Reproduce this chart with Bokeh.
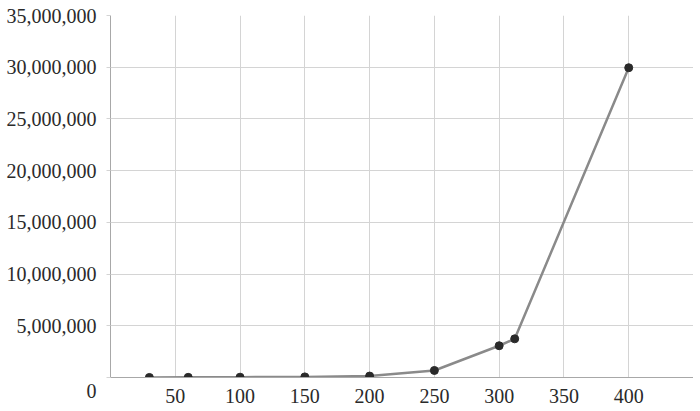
from bokeh.plotting import figure
from bokeh.models import NumeralTickFormatter, FixedTicker, Range1d
from bokeh.embed import file_html
from bokeh.resources import INLINE

x_vals = [30, 60, 100, 150, 200, 250, 300, 312, 400]
y_vals = [5000, 15000, 30000, 60000, 140000, 680000, 3070000, 3740000, 29950000]
x_ticks = [50, 100, 150, 200, 250, 300, 350, 400, 450]
y_ticks = [0, 5000000, 10000000, 15000000, 20000000, 25000000, 30000000, 35000000]

FONT = "Liberation Serif"
LBL = "#2a2a2a"

p = figure(frame_width=583, frame_height=362, output_backend="svg", toolbar_location=None,
           x_range=Range1d(0, 450), y_range=Range1d(0, 35000000),
           min_border_left=110, min_border_right=0, min_border_top=15, min_border_bottom=10)
p.outline_line_color = None
p.background_fill_color = "white"

p.line(x_vals, y_vals, line_color="#8a8a8a", line_width=2.5)
p.scatter(x_vals, y_vals, size=8, fill_color="#2a2a2a", line_color="#2a2a2a")

xa = p.xaxis[0]
xa.ticker = FixedTicker(ticks=x_ticks)
xa.major_label_overrides = {450: ""}
xa.major_tick_out = 0
xa.major_tick_in = 0
xa.minor_tick_out = 0
xa.minor_tick_in = 0
xa.axis_line_color = "#a8a8a8"
xa.major_label_text_font = FONT
xa.major_label_text_font_size = "20px"
xa.major_label_text_color = LBL
xa.major_label_standoff = 11

ya = p.yaxis[0]
ya.ticker = FixedTicker(ticks=y_ticks)
ya.formatter = NumeralTickFormatter(format="0,0")
ya.major_label_overrides = {0: "\n0"}
ya.major_tick_out = 4
ya.major_tick_in = 0
ya.major_tick_line_color = "#d4d4d4"
ya.minor_tick_out = 0
ya.minor_tick_in = 0
ya.axis_line_color = "#a8a8a8"
ya.major_label_text_font = FONT
ya.major_label_text_font_size = "20px"
ya.major_label_text_color = LBL
ya.major_label_standoff = 10

p.xgrid.ticker = FixedTicker(ticks=x_ticks)
p.ygrid.ticker = FixedTicker(ticks=y_ticks)
p.xgrid.grid_line_color = "#d4d4d4"
p.ygrid.grid_line_color = "#d4d4d4"

open("out.html", "w").write(file_html(p, INLINE))
